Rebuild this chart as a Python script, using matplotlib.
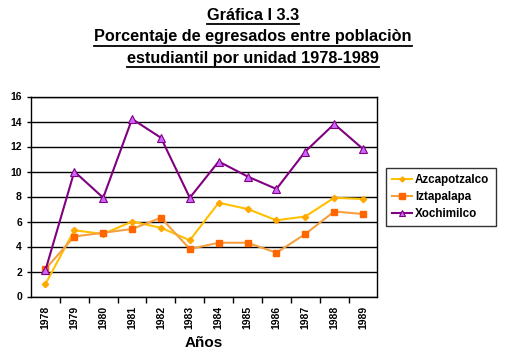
import matplotlib.pyplot as plt
from matplotlib.lines import Line2D

years = ['1978', '1979', '1980', '1981', '1982', '1983', '1984', '1985', '1986', '1987', '1988', '1989']
azcapotzalco = [1.0, 5.3, 5.0, 6.0, 5.5, 4.5, 7.5, 7.0, 6.1, 6.4, 7.9, 7.8]
iztapalapa = [2.2, 4.8, 5.1, 5.4, 6.3, 3.8, 4.3, 4.3, 3.5, 5.0, 6.8, 6.6]
xochimilco = [2.1, 10.0, 7.9, 14.2, 12.7, 7.9, 10.8, 9.6, 8.6, 11.6, 13.8, 11.8]

title_lines = ['Gráfica I 3.3',
               'Porcentaje de egresados entre poblaciòn',
               'estudiantil por unidad 1978-1989']

plt.rcParams['font.family'] = ['Liberation Sans', 'DejaVu Sans']

fig = plt.figure(figsize=(5.06, 3.57), dpi=100)
ax = fig.add_axes([31 / 506, 1 - 296.5 / 357, 346.5 / 506, 200 / 357])

x = list(range(len(years)))
ax.plot(x, azcapotzalco, color='#FFC000', lw=1.5, marker='D', ms=3.2,
        mfc='#FFA800', mec='#FFA800', label='Azcapotzalco')
ax.plot(x, iztapalapa, color='#F5A040', lw=1.5, marker='s', ms=4.8,
        mfc='#FF6600', mec='#FF6600', label='Iztapalapa')
ax.plot(x, xochimilco, color='#800080', lw=1.5, marker='^', ms=5.2,
        mfc='#CC66FF', mec='#800080', mew=0.8, label='Xochimilco')

ax.set_xlim(-0.5, len(years) - 0.5)
ax.set_ylim(0, 16)
ax.set_yticks(range(0, 17, 2))
ax.set_xticks(x)
ax.set_xticklabels(years, rotation=90, fontsize=7.5, fontweight='bold')
ax.set_xticks([i + 0.5 for i in x[:-1]], minor=True)
ax.tick_params(axis='x', which='major', length=0, pad=7)
ax.tick_params(axis='x', which='minor', length=4, width=1, direction='out')
ax.tick_params(axis='y', length=3, width=1, labelsize=7.5)
for lbl in ax.get_yticklabels():
    lbl.set_fontweight('bold')
ax.grid(axis='y', color='black', lw=1)
ax.set_axisbelow(True)
for s in ax.spines.values():
    s.set_color('black')
    s.set_linewidth(1)

ax.set_xlabel('Años', fontsize=11, fontweight='bold', labelpad=5)

leg = ax.legend(loc='upper left', bbox_to_anchor=(386 / 506, 1 - 168 / 357),
                bbox_transform=fig.transFigure, frameon=True, fancybox=False,
                edgecolor='black', prop={'weight': 'bold', 'size': 8.4},
                handlelength=1.7, handletextpad=0.25, borderpad=0.55, labelspacing=0.4,
                borderaxespad=0, markerscale=0.8)
leg.get_frame().set_linewidth(1)

# title with underline
ys = [15, 37, 58]
fig.canvas.draw()
renderer = fig.canvas.get_renderer()
for line, yc in zip(title_lines, ys):
    t = fig.text(253 / 506, 1 - yc / 357, line, ha='center', va='center',
                 fontsize=11.7, fontweight='bold')
    bb = t.get_window_extent(renderer)
    uy = (bb.y0 - 1) / fig.bbox.height
    fig.add_artist(Line2D([bb.x0 / fig.bbox.width, bb.x1 / fig.bbox.width], [uy, uy],
                          color='black', lw=1.3, transform=fig.transFigure))

fig.savefig('out.png', dpi=100)
